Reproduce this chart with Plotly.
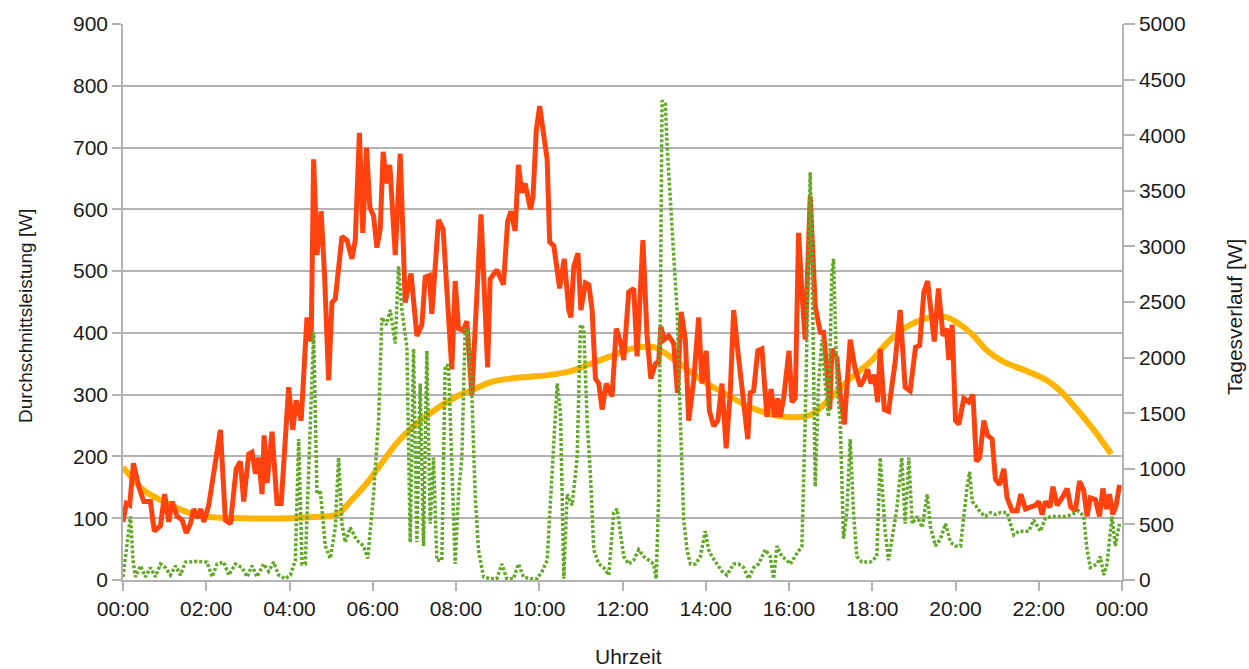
import plotly.graph_objects as go

# ---- data (hours of day, watts) ----
red_h = [0.00,0.08,0.16,0.25,0.38,0.50,0.66,0.75,0.90,1.00,1.10,1.18,1.30,1.42,1.52,1.62,1.70,1.79,1.87,1.94,
         2.06,2.22,2.34,2.46,2.58,2.72,2.82,2.90,3.02,3.10,3.18,3.26,3.34,3.39,3.46,3.58,3.70,3.80,
         3.86,3.98,4.08,4.16,4.28,4.36,4.42,4.52,4.58,4.66,4.76,4.84,4.94,5.02,5.10,5.26,5.38,5.50,5.58,5.68,
         5.76,5.85,5.93,6.02,6.10,6.18,6.25,6.33,6.41,6.54,6.66,6.78,6.92,7.06,7.18,7.26,7.36,7.42,7.58,7.69,7.90,
         7.98,8.06,8.18,8.26,8.38,8.60,8.76,8.82,8.98,9.14,9.24,9.32,9.42,9.50,9.58,9.66,9.79,9.85,9.93,10.01,
         10.19,10.25,10.35,10.49,10.60,10.71,10.76,10.83,10.93,11.00,11.11,11.19,11.27,11.35,11.43,11.51,11.61,11.75,11.85,11.95,
         12.03,12.15,12.27,12.35,12.49,12.59,12.68,12.79,12.87,12.92,13.00,13.11,13.23,13.32,13.41,13.51,13.59,13.71,13.83,13.91,
         14.01,14.09,14.19,14.29,14.39,14.49,14.59,14.67,14.77,14.87,15.01,15.07,15.15,15.25,15.35,15.47,15.57,15.65,15.73,15.79,15.87,
         16.00,16.07,16.15,16.23,16.31,16.39,16.51,16.63,16.75,16.83,16.91,16.98,17.03,17.15,17.23,17.33,17.47,17.59,17.71,17.79,17.89,17.97,
         18.05,18.13,18.19,18.29,18.39,18.55,18.67,18.79,18.91,19.04,19.14,19.24,19.33,19.41,19.49,19.59,19.70,19.78,19.84,19.92,
         20.00,20.08,20.16,20.20,20.32,20.42,20.50,20.58,20.68,20.77,20.88,20.96,21.06,21.16,21.24,21.36,21.48,21.57,21.68,21.80,21.92,
         22.00,22.08,22.16,22.27,22.34,22.44,22.56,22.68,22.77,22.88,22.98,23.08,23.16,23.24,23.36,23.46,23.54,23.63,23.70,23.78,23.86,23.94]
red_w = [94,124,121,189,151,127,127,79,88,139,94,127,103,97,76,91,115,100,115,94,
         121,192,243,97,91,180,192,127,204,207,172,198,139,234,157,240,124,124,
         198,312,243,291,258,371,425,386,681,526,597,496,323,449,455,556,550,520,550,724,
         562,700,603,589,538,568,693,642,672,526,690,449,496,395,413,490,493,431,583,568,341,
         484,407,404,419,300,592,344,487,502,478,580,597,565,672,627,642,600,621,729,767,
         681,547,541,472,520,437,425,508,529,437,481,478,437,326,318,276,318,297,407,386,
         356,466,472,362,550,395,326,350,353,410,389,395,383,303,434,389,258,323,425,318,
         371,273,249,258,318,213,306,437,371,318,228,303,306,371,374,264,309,264,294,264,294,
         371,288,294,562,466,389,621,443,401,401,341,276,374,359,300,252,389,341,314,323,341,318,
         332,288,374,276,273,353,437,312,306,377,380,466,484,437,386,472,395,407,356,413,
         258,252,285,294,288,300,192,198,258,234,228,163,154,180,133,112,112,139,115,118,121,
         127,106,127,118,151,121,133,148,118,112,160,145,103,133,130,103,148,115,139,106,121,154]

trend_h = [0.00,0.50,0.98,1.46,1.94,2.90,4.00,4.58,5.14,5.46,5.86,6.18,6.58,6.98,7.38,7.78,8.10,8.34,8.82,9.30,
           9.79,10.27,10.76,11.23,11.71,12.19,12.43,12.75,13.07,13.55,14.03,14.51,14.99,15.47,15.95,16.51,16.99,
           17.47,17.95,18.43,18.91,19.39,19.79,20.12,20.44,20.76,21.16,21.72,22.20,22.52,22.92,23.32,23.74]
trend_w = [183,145,127,112,103,100,100,102,106,127,157,186,222,249,270,288,300,306,320,326,
           329,332,338,350,362,374,377,377,365,341,318,300,282,270,264,267,294,
           326,353,389,413,425,425,413,395,371,353,338,323,306,276,243,204]

green_h = [0.00,0.10,0.18,0.24,0.30,0.42,0.54,0.66,0.78,0.90,1.02,1.14,1.26,1.38,1.50,1.78,2.02,2.14,2.26,2.42,
           2.54,2.70,2.86,2.98,3.10,3.22,3.38,3.50,3.62,3.74,
           3.90,4.02,4.14,4.22,4.30,4.38,4.46,4.58,4.66,4.74,4.86,4.98,5.10,5.18,5.26,5.34,5.46,5.62,5.78,5.88,
           6.02,6.14,6.22,6.33,6.42,6.54,6.62,6.70,6.82,6.90,6.98,7.06,7.14,7.22,7.30,7.38,7.46,7.54,7.66,7.74,7.82,
           7.98,8.06,8.14,8.22,8.30,8.38,8.46,8.54,8.66,8.82,8.98,9.10,9.22,9.38,9.50,9.62,9.79,9.95,10.07,10.19,
           10.31,10.43,10.51,10.59,10.67,10.79,10.91,10.99,11.07,11.15,11.23,11.31,11.43,11.55,11.67,11.79,11.87,11.99,
           12.03,12.15,12.27,12.39,12.51,12.63,12.75,12.81,12.87,12.91,12.95,13.03,13.07,13.15,13.23,13.31,13.39,13.47,
           13.55,13.63,13.75,13.87,13.99,14.07,14.15,14.27,14.39,14.51,14.67,14.79,14.91,15.03,15.15,15.27,15.43,15.55,
           15.63,15.71,15.83,15.95,
           16.03,16.19,16.31,16.39,16.47,16.51,16.57,16.63,16.71,16.79,16.87,16.95,17.03,17.07,17.15,17.23,17.31,17.39,
           17.47,17.55,17.63,17.75,17.95,18.11,18.19,18.31,18.39,18.51,18.59,18.71,18.79,18.88,18.96,19.08,19.20,19.32,
           19.40,19.52,19.64,19.76,19.88,20.00,20.12,
           20.28,20.34,20.40,20.48,20.60,20.72,20.84,20.96,21.08,21.24,21.32,21.40,21.52,21.64,21.76,21.88,22.04,22.16,
           22.32,22.48,22.64,22.80,22.96,23.08,23.16,23.24,23.40,23.48,23.56,23.64,23.76,23.84,23.94]
green_w = [28,306,572,178,28,128,28,111,28,144,111,44,128,44,161,167,161,28,144,161,
           44,144,111,28,128,28,144,78,161,44,
           11,44,178,1267,144,144,939,2228,772,806,306,194,472,1100,506,339,472,356,306,194,
           772,1433,2361,2294,2428,2128,2822,2428,2094,339,2078,339,1767,306,2061,506,1100,178,178,1928,1928,
           144,772,1100,2261,2228,1667,772,272,28,11,11,144,11,11,144,28,11,11,78,178,
           939,1767,1500,11,772,672,1100,2294,2261,1433,939,272,144,111,44,606,639,272,
           211,144,178,272,211,178,144,11,772,2428,4311,4278,3917,3417,2922,2428,1433,539,
           272,144,144,211,439,272,211,144,78,44,144,144,111,11,111,144,272,211,
           11,306,211,178,
           144,239,306,1433,3089,3667,2428,839,1767,2161,1767,1467,2756,2889,1767,1433,372,606,
           1267,606,211,161,161,211,1100,439,178,472,639,1100,506,1100,506,572,472,772,
           472,306,372,506,339,306,306,
           839,972,706,672,606,572,606,589,606,606,506,406,439,439,439,539,439,556,
           572,572,572,589,622,572,272,111,144,211,44,144,572,306,506]

tick_hours = [0, 2, 4, 6, 8, 10, 12, 14, 16, 18, 20, 22, 24]
tick_labels = ["00:00", "02:00", "04:00", "06:00", "08:00", "10:00", "12:00",
               "14:00", "16:00", "18:00", "20:00", "22:00", "00:00"]

GRID = "#b3b3b3"
FONT = "Liberation Sans"
TXT = "#1a1a1a"

fig = go.Figure()
fig.add_trace(go.Scatter(x=green_h, y=green_w, yaxis="y2", mode="lines",
                         line=dict(color="#64a82a", width=3.5, dash="3px,2px"),
                         name="Tagesverlauf"))
fig.add_trace(go.Scatter(x=trend_h, y=trend_w, mode="lines",
                         line=dict(color="#ffb400", width=6, shape="spline", smoothing=1.0),
                         name="Trend"))
fig.add_trace(go.Scatter(x=red_h, y=red_w, mode="lines",
                         line=dict(color="#ff420e", width=5),
                         name="Durchschnittsleistung"))

fig.update_layout(
    width=1249, height=669,
    margin=dict(l=123, r=127, t=22, b=89),
    paper_bgcolor="white", plot_bgcolor="white",
    showlegend=False,
    font=dict(family=FONT, color=TXT, size=21),
    xaxis=dict(range=[0, 24], tickvals=tick_hours, ticktext=tick_labels,
               showgrid=False, zeroline=False, showline=True, linecolor=GRID, linewidth=1.5,
               ticks="outside", ticklen=9, tickcolor=GRID, tickwidth=1.5,
               tickfont=dict(family=FONT, size=21, color=TXT)),
    yaxis=dict(range=[0, 900], dtick=100, showgrid=True, gridcolor=GRID, gridwidth=1.5,
               zeroline=False, showline=True, linecolor=GRID, linewidth=1.5,
               ticks="outside", ticklen=9, tickcolor=GRID, tickwidth=1.5,
               tickfont=dict(family=FONT, size=21, color=TXT)),
    yaxis2=dict(range=[0, 5000], dtick=500, overlaying="y", side="right",
                showgrid=False, zeroline=False, showline=True, linecolor=GRID, linewidth=1.5,
                ticks="outside", ticklen=11, tickcolor=GRID, tickwidth=1.5,
                tickfont=dict(family=FONT, size=21, color=TXT)),
    annotations=[
        dict(text="Durchschnittsleistung [W]", xref="paper", yref="paper",
             x=(26 - 123) / 999, y=(580 - 315) / 558, textangle=-90, showarrow=False,
             xanchor="center", yanchor="middle", font=dict(family=FONT, size=19, color=TXT)),
        dict(text="Tagesverlauf [W]", xref="paper", yref="paper",
             x=(1235 - 123) / 999, y=(580 - 316) / 558, textangle=-90, showarrow=False,
             xanchor="center", yanchor="middle", font=dict(family=FONT, size=21, color=TXT)),
        dict(text="Uhrzeit", xref="paper", yref="paper",
             x=(628 - 123) / 999, y=(580 - 657) / 558, showarrow=False,
             xanchor="center", yanchor="middle", font=dict(family=FONT, size=21, color=TXT)),
    ],
)

fig.write_html("out.html", config={"displayModeBar": False},
               post_script="document.body.style.margin='0px';document.body.style.overflow='hidden';")
